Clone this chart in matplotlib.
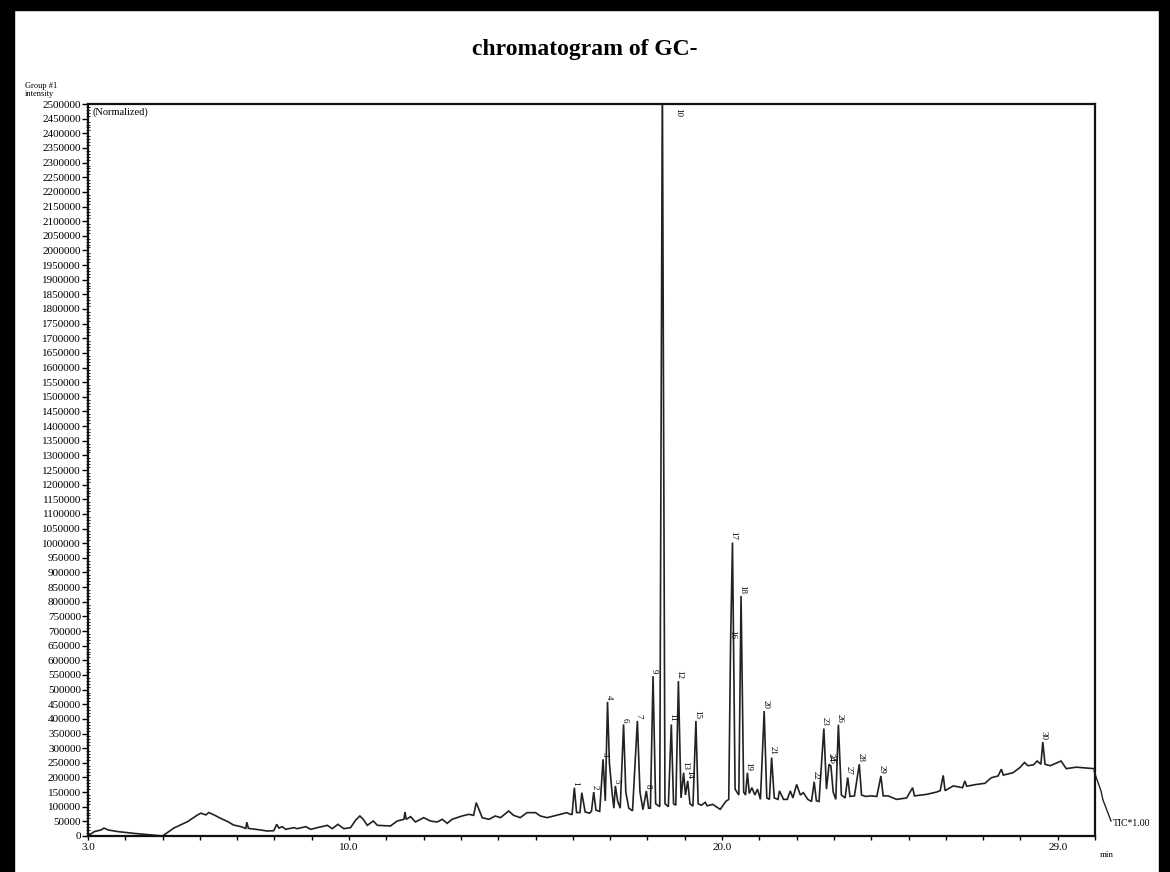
import numpy as np
import matplotlib.pyplot as plt
from matplotlib.patches import Rectangle
from matplotlib.ticker import MultipleLocator, FixedLocator

# baseline / unlabeled part of the TIC trace (min, intensity)
base_t = [3.0, 3.17, 3.35, 3.43, 3.54, 3.8, 4.23, 4.69, 5.0, 5.3, 5.67, 5.94, 6.03, 6.16, 6.24,
          6.38, 6.56, 6.75, 6.9, 7.1, 7.23, 7.26, 7.3, 7.63, 7.8, 7.98, 8.06, 8.12, 8.21, 8.3,
          8.52, 8.61, 8.84, 8.97, 9.15, 9.42, 9.55, 9.7, 9.86, 10.04, 10.18, 10.29, 10.38, 10.49,
          10.65, 10.76, 11.11, 11.29, 11.47, 11.5, 11.53, 11.65, 11.78, 12.0, 12.18, 12.36, 12.5,
          12.63, 12.76, 13.03, 13.21, 13.34, 13.41, 13.48, 13.57, 13.75, 13.92, 14.06, 14.28,
          14.41, 14.59, 14.77, 15.0, 15.13, 15.31, 15.66, 15.84, 15.93,
          15.98, 16.10, 16.19, 16.24, 16.33, 16.45, 16.5, 16.62, 16.72, 16.87, 16.98, 17.05,
          17.1, 17.2, 17.27, 17.42, 17.5, 17.6, 17.8, 17.88, 18.03, 18.08, 18.22, 18.33, 18.47,
          18.56, 18.7, 18.76, 18.9, 19.02, 19.14, 19.22, 19.36, 19.45, 19.55, 19.6, 19.75,
          19.95, 20.1, 20.18, 20.35, 20.45, 20.58, 20.63, 20.73, 20.8, 20.88, 20.95, 21.03,
          21.2, 21.27, 21.4, 21.5, 21.54, 21.65, 21.75, 21.83, 21.9, 22.0, 22.1, 22.18, 22.3,
          22.4, 22.53, 22.6, 22.8, 22.98, 23.05, 23.2, 23.3, 23.43, 23.55, 23.74, 23.85, 24.0,
          24.15, 24.32, 24.45, 24.68, 24.95, 25.11, 25.16, 25.48, 25.75, 25.85, 25.93, 25.98,
          26.2, 26.45, 26.51, 26.56, 26.82, 27.05, 27.22, 27.4, 27.49, 27.54, 27.8, 27.98,
          28.11, 28.2, 28.35, 28.45, 28.55, 28.66, 28.8, 29.09, 29.23, 29.5, 29.7, 29.97]
base_i = [0, 15000, 20500, 27000, 20500, 15000, 9000, 3400, 0, 27000, 49000, 72000, 78000, 72000, 80000,
          72000, 60000, 49000, 37500, 32000, 26000, 47000, 26000, 20500, 17000, 18000, 39800, 27000, 31900, 22800,
          28500, 25000, 31900, 22800, 28500, 36400, 25000, 39800, 25000, 28500, 54600, 68300, 56900, 36400,
          51200, 36400, 34100, 51200, 56900, 82000, 56900, 66000, 47800, 62600, 51200, 47800, 56900,
          43200, 56900, 68300, 74000, 70600, 113800, 91000, 62600, 56900, 68300, 62600, 85300,
          70600, 62600, 79700, 79700, 68300, 62600, 74000, 79700, 74000,
          74000, 80000, 80000, 148000, 82000, 78000, 85000, 88000, 84000, 120000, 250000, 150000,
          95000, 120000, 95000, 150000, 95000, 86000, 150000, 90000, 95000, 95000, 110000, 100000, 110000,
          100000, 110000, 105000, 130000, 140000, 110000, 102000, 110000, 105000, 115000, 103000, 108000,
          91000, 118000, 125000, 160000, 140000, 150000, 140000, 145000, 165000, 140000, 160000, 125000,
          130000, 125000, 130000, 125000, 154000, 125000, 125000, 154000, 130000, 176000, 140000, 148000, 125000,
          118000, 120000, 118000, 160000, 150000, 125000, 140000, 130000, 135000, 137000, 140000, 135000, 137000,
          135000, 137000, 137000, 125000, 130000, 165000, 137000, 142000, 150000, 155000, 207000, 155000,
          171000, 165000, 188000, 170000, 176000, 180000, 199000, 205000, 228000, 208000, 216000, 233000,
          251000, 240000, 243000, 256000, 245000, 245000, 240000, 256000, 230000, 235000, 233000, 230000]

# labelled peaks
peak_label = ['1', '2', '3', '4', '5', '6', '7', '8', '9', '10', '11', '12', '13', '14', '15',
              '16', '17', '18', '19', '20', '21', '22', '23', '24', '25', '26', '27', '28', '29', '30']
peak_rt = [16.04, 16.56, 16.81, 16.93, 17.14, 17.36, 17.73, 17.97, 18.15, 18.40, 18.64, 18.83, 18.97,
           19.08, 19.30, 20.23, 20.28, 20.51, 20.68, 21.13, 21.33, 22.47, 22.73, 22.87, 22.92, 23.12,
           23.37, 23.68, 24.26, 28.60]
peak_height = [165000, 150000, 262000, 458000, 171000, 381000, 393000, 154000, 546000, 2600000,
               381000, 529000, 216000, 188000, 393000, 666000, 1002000, 820000, 216000, 427000,
               268000, 185000, 367000, 245000, 239000, 380000, 200000, 245000, 205000, 321000]

trace = sorted(list(zip(base_t, base_i)) + list(zip(peak_rt, peak_height)))
tt = [p[0] for p in trace]
ii = [p[1] for p in trace]

serif = ['Liberation Serif', 'DejaVu Serif']
plt.rcParams['font.family'] = serif

fig = plt.figure(figsize=(11.7, 8.72), dpi=100)
ax = fig.add_axes([0.0752, 0.0413, 0.8607, 0.8394])

ax.plot(tt, ii, color='#222222', lw=1.2, solid_joinstyle='miter')

ax.set_xlim(3.0, 30.0)
ax.set_ylim(0, 2500000)

ax.yaxis.set_major_locator(MultipleLocator(50000))
ax.yaxis.set_minor_locator(MultipleLocator(10000))
ax.yaxis.set_major_formatter(plt.FuncFormatter(lambda v, p: '%d' % v))
ax.tick_params(axis='y', which='major', direction='out', length=4, width=1, labelsize=8, pad=1)
ax.tick_params(axis='y', which='minor', direction='inout', length=3, width=0.6)

x_labels = ['3.0', '10.0', '20.0', '29.0']
ax.xaxis.set_major_locator(FixedLocator([float(s) for s in x_labels]))
ax.xaxis.set_major_formatter(plt.FuncFormatter(lambda v, p: '%.1f' % v))
ax.xaxis.set_minor_locator(MultipleLocator(1.0))
ax.tick_params(axis='x', which='both', direction='out', length=3, width=1, labelsize=8, pad=2)

for s in ax.spines.values():
    s.set_linewidth(1.6)
    s.set_color('#111111')

ymax = ax.get_ylim()[1]
for lab, rt, h in zip(peak_label, peak_rt, peak_height):
    if h > ymax:
        ax.text(rt + 0.42, ymax * 0.995, lab, rotation=270, fontsize=6.5, ha='center', va='top')
    else:
        ax.text(rt + 0.03, h + 8000, lab, rotation=270, fontsize=6.5, ha='center', va='bottom')

ax.text(0.004, 0.995, '(Normalized)', transform=ax.transAxes, fontsize=7.5, ha='left', va='top')

fig.text(0.5, 0.943, 'chromatogram of GC-', fontsize=17, fontweight='bold', ha='center', va='center')
fig.text(0.021, 1 - 86 / 872, 'Group #1', fontsize=6, ha='left', va='center')
fig.text(0.021, 1 - 94.5 / 872, 'intensity', fontsize=6, ha='left', va='center')
fig.text(0.940, 0.019, 'min', fontsize=6.5, ha='left', va='center')

# TIC leader and label, outside the axes
fig.add_artist(plt.Line2D([1094 / 1170, 1101 / 1170, 1103 / 1170, 1111 / 1170],
                          [1 - 771 / 872, 1 - 791 / 872, 1 - 800 / 872, 1 - 821 / 872],
                          color='#222222', lw=1.0))
fig.text(1113 / 1170, 1 - 823 / 872, 'TIC*1.00', fontsize=7, ha='left', va='center')

# black frame of the scanned page
for r in [(0, 0, 0.012, 1), (0, 0.988, 1, 0.012), (0.991, 0, 0.009, 1)]:
    fig.add_artist(Rectangle(r[:2], r[2], r[3], transform=fig.transFigure, color='black', zorder=10))

fig.savefig('out.png', dpi=100)
